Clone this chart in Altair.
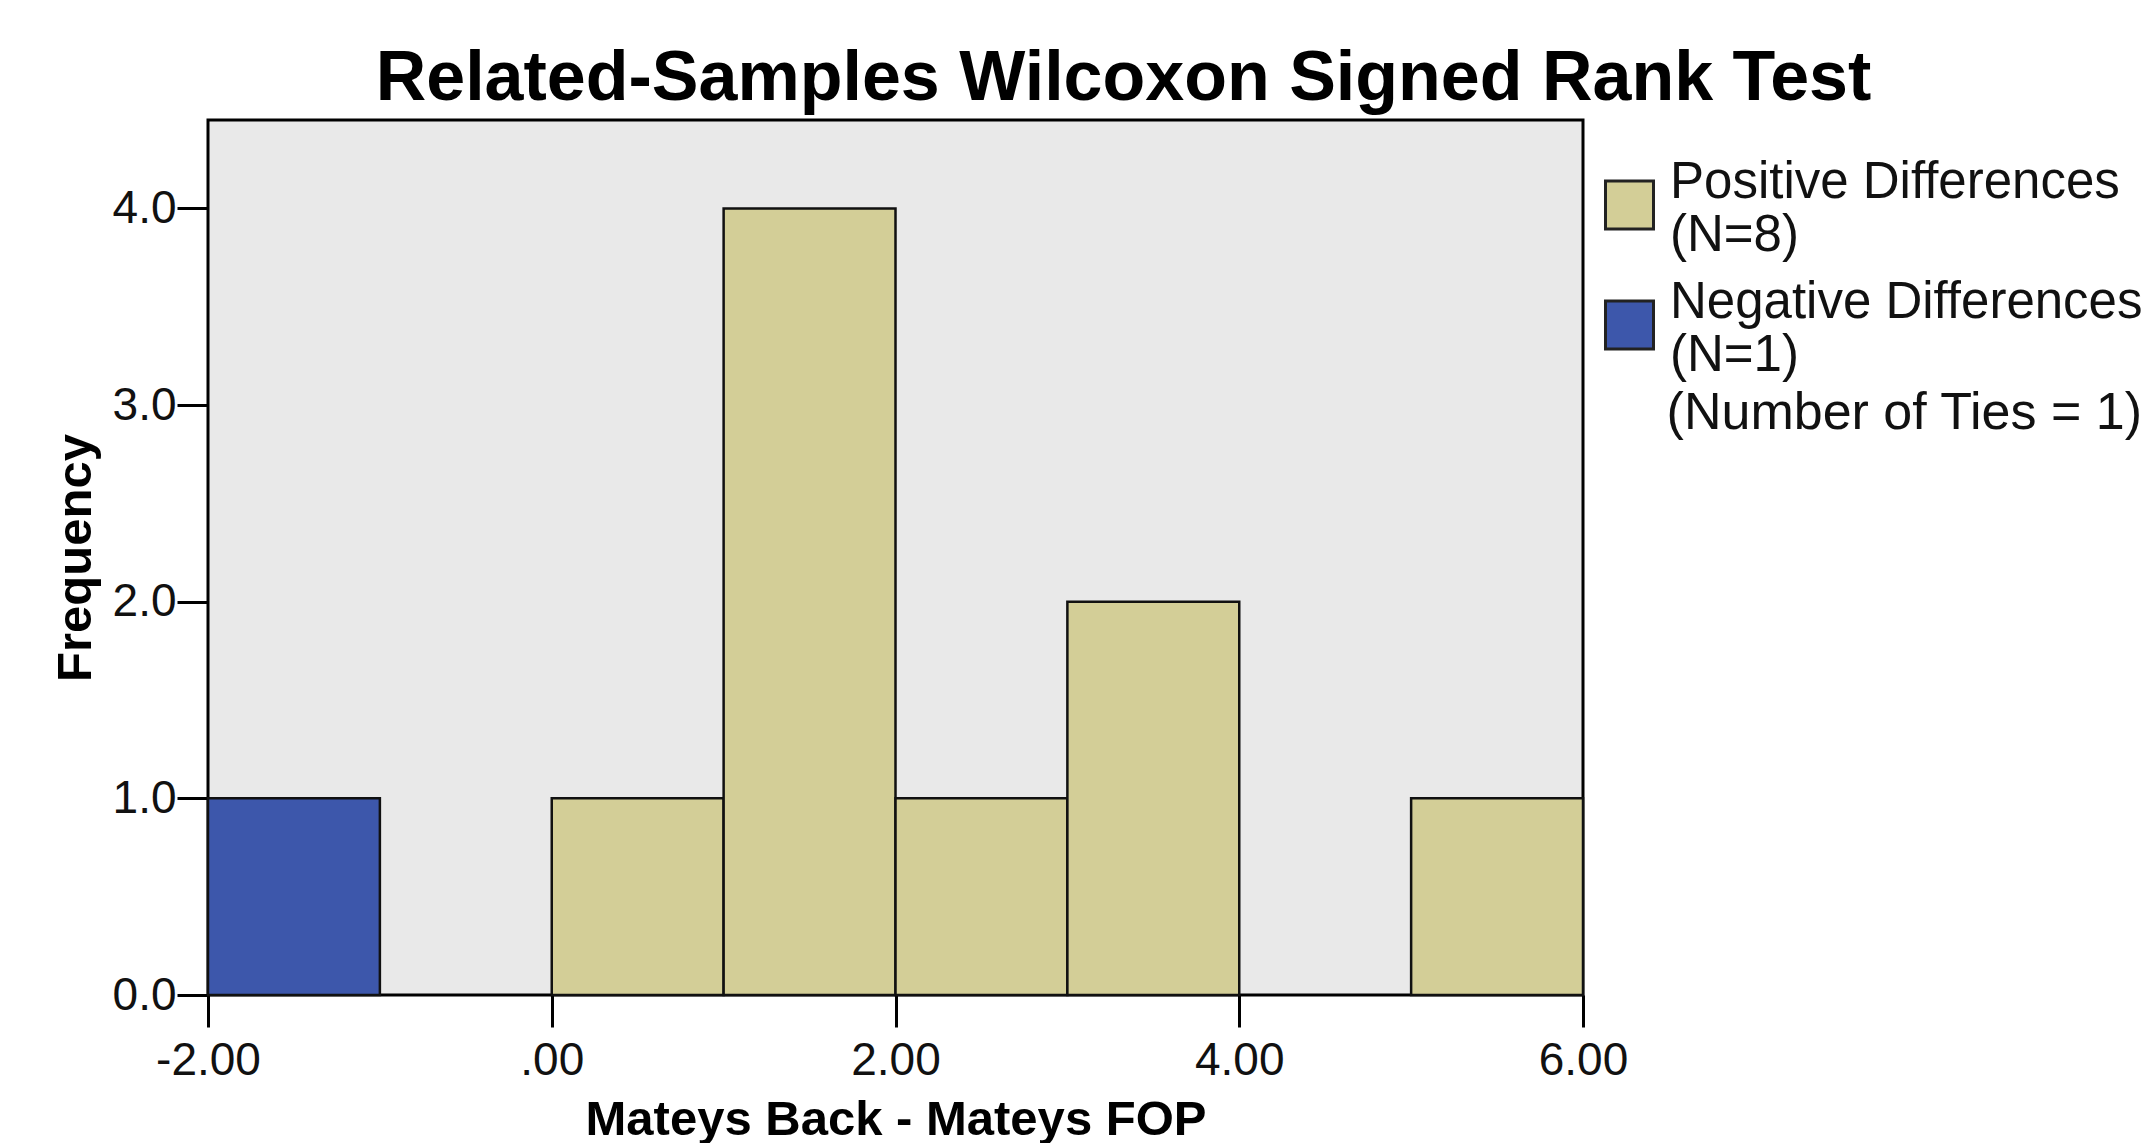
import altair as alt
import pandas as pd

# ---- data ----
bin_start = [-2, 0, 1, 2, 3, 5]
bin_end = [-1, 1, 2, 3, 4, 6]
frequency = [1, 1, 4, 1, 2, 1]
group = [
    "Negative Differences|(N=1)",
    "Positive Differences|(N=8)",
    "Positive Differences|(N=8)",
    "Positive Differences|(N=8)",
    "Positive Differences|(N=8)",
    "Positive Differences|(N=8)",
]
legend_order = ["Positive Differences|(N=8)", "Negative Differences|(N=1)"]
legend_colors = ["#D3CE97", "#3D57AB"]
x_ticks = [-2, 0, 2, 4, 6]
y_ticks = [0, 1, 2, 3, 4]
chart_title = "Related-Samples Wilcoxon Signed Rank Test"
x_title = "Mateys Back - Mateys FOP"
y_title = "Frequency"
ties_note = "(Number of Ties = 1)"

df = pd.DataFrame({
    "start": bin_start,
    "end": bin_end,
    "freq": frequency,
    "group": group,
})

FONT = "Liberation Sans"

chart = alt.Chart(df).mark_bar(stroke="#111111", strokeWidth=2.5, opacity=1).encode(
    x=alt.X(
        "start:Q",
        title=x_title,
        scale=alt.Scale(domain=[-2, 6], nice=False, zero=False),
        axis=alt.Axis(
            values=x_ticks,
            labelExpr="datum.value == 0 ? '.00' : (datum.value < 0 ? '-' + format(-datum.value, '.2f') : format(datum.value, '.2f'))",
            labelFlush=False,
            labelOverlap=False,
            labelFontSize=46,
            labelPadding=11,
            tickSize=32,
            titleFontSize=49,
            titlePadding=12,
        ),
    ),
    x2="end:Q",
    y=alt.Y(
        "freq:Q",
        title=y_title,
        scale=alt.Scale(domain=[0, 4.45], nice=False),
        axis=alt.Axis(
            values=y_ticks,
            format=".1f",
            labelFlush=False,
            labelOverlap=False,
            labelFontSize=46,
            labelPadding=1,
            tickSize=31,
            titleFontSize=49,
            titlePadding=12,
        ),
    ),
    y2=alt.datum(0),
    color=alt.Color(
        "group:N",
        scale=alt.Scale(domain=legend_order, range=legend_colors),
        legend=alt.Legend(
            title=ties_note,
            titleOrient="bottom",
            titleAnchor="end",
            titleBaseline="top",
            titleFont=FONT,
            titleFontWeight="normal",
            titleFontSize=52,
            titleColor="#111111",
            titlePadding=7,
            titleLimit=2000,
            labelExpr="split(datum.label, '|')",
            labelFont=FONT,
            labelFontSize=51,
            labelColor="#111111",
            labelLimit=1000,
            labelBaseline="middle",
            labelOffset=15,
            symbolType="M-1,-0.06H1V1.94H-1Z",
            symbolSize=2304,
            symbolStrokeColor="#222222",
            symbolStrokeWidth=3,
            symbolOpacity=1,
            rowPadding=15,
            orient="none",
            legendX=1396,
            legendY=37,
            padding=0,
        ),
    ),
).properties(
    width=1375,
    height=875,
    autosize="none",
    padding={"left": 208, "top": 120, "right": 565, "bottom": 148},
    title=alt.TitleParams(
        text=chart_title,
        font=FONT,
        fontSize=70,
        fontWeight="bold",
        color="#000000",
        anchor="middle",
        baseline="alphabetic",
        dx=228,
        dy=70,
        offset=20,
    ),
).configure_view(
    fill="#E9E9E9",
    stroke="#000000",
    strokeWidth=3,
).configure_axis(
    domain=False,
    grid=False,
    ticks=True,
    tickColor="#000000",
    tickWidth=3,
    labelFont=FONT,
    labelColor="#111111",
    titleFont=FONT,
    titleFontWeight="bold",
    titleColor="#000000",
)

chart.save("out.html", embed_options={"renderer": "svg", "actions": False})
